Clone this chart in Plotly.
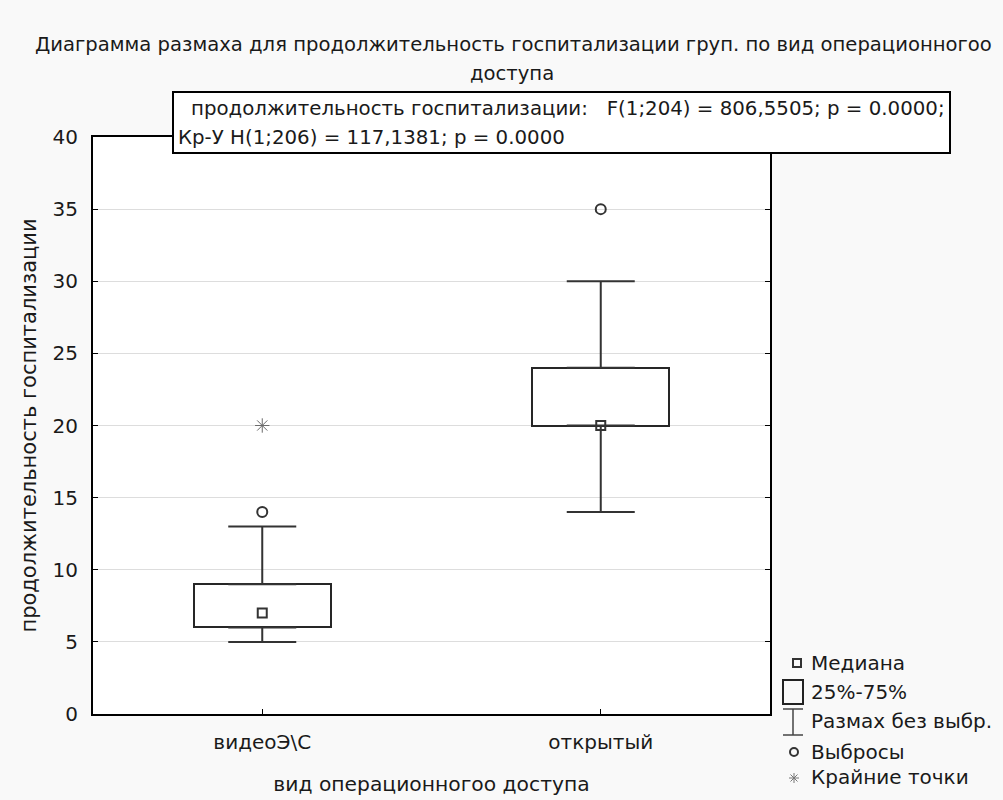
import plotly.graph_objects as go

# ---------------- data ----------------
categories = ["видеоЭ\\С", "открытый"]
q1 = [6, 20]
median = [7, 20]
q3 = [9, 24]
whisker_low = [5, 14]
whisker_high = [13, 30]
outlier_cat = ["видеоЭ\\С", "открытый"]
outlier_val = [14, 35]
extreme_cat = ["видеоЭ\\С"]
extreme_val = [20]
y_ticks = [0, 5, 10, 15, 20, 25, 30, 35, 40]

title_line1 = "Диаграмма размаха для продолжительность госпитализации груп. по вид операционногоо"
title_line2 = "доступа"
stat_line1 = "продолжительность госпитализации:&nbsp;&nbsp;&nbsp;F(1;204) = 806,5505; p = 0.0000;"
stat_line2 = "Кр-У H(1;206) = 117,1381; p = 0.0000"
x_title = "вид операционногоо доступа"
y_title = "продолжительность госпитализации"
legend_labels = ["Медиана", "25%-75%", "Размах без выбр.", "Выбросы", "Крайние точки"]

# ---------------- layout helpers ----------------
W, H = 1003, 800
FONT = "DejaVu Sans"
TXT = "#1a1a1a"
LINE = "#333333"


def px(x):
    return x / W


def py(y):
    return 1 - y / H


fig = go.Figure()

# boxes (25%-75%)
fig.add_trace(go.Bar(
    x=categories, base=q1, y=[b - a for a, b in zip(q1, q3)],
    width=0.405, marker=dict(color="white", line=dict(color="#262626", width=2)),
    showlegend=False, hoverinfo="skip",
))
# upper whiskers
fig.add_trace(go.Scatter(
    x=categories, y=q3, mode="markers",
    marker=dict(size=1, color="rgba(0,0,0,0)"),
    error_y=dict(type="data", symmetric=False,
                 array=[h - b for b, h in zip(q3, whisker_high)],
                 arrayminus=[0 for _ in q3],
                 width=34, thickness=2, color=LINE),
    showlegend=False, hoverinfo="skip",
))
# lower whiskers
fig.add_trace(go.Scatter(
    x=categories, y=q1, mode="markers",
    marker=dict(size=1, color="rgba(0,0,0,0)"),
    error_y=dict(type="data", symmetric=False,
                 array=[0 for _ in q1],
                 arrayminus=[a - l for a, l in zip(q1, whisker_low)],
                 width=34, thickness=2, color=LINE),
    showlegend=False, hoverinfo="skip",
))
# medians
fig.add_trace(go.Scatter(
    x=categories, y=median, mode="markers",
    marker=dict(symbol="square-open", size=9, color=LINE, line=dict(width=2)),
    showlegend=False,
))
# outliers
fig.add_trace(go.Scatter(
    x=outlier_cat, y=outlier_val, mode="markers",
    marker=dict(symbol="circle-open", size=10, color=LINE, line=dict(width=2)),
    showlegend=False,
))
# extremes
fig.add_trace(go.Scatter(
    x=extreme_cat, y=extreme_val, mode="markers",
    marker=dict(symbol="asterisk-open", size=12, color="#6a6a6a", line=dict(width=1)),
    showlegend=False,
))

shapes = []
annotations = []

# statistics box
shapes.append(dict(type="rect", xref="paper", yref="paper",
                   x0=px(173), x1=px(950), y0=py(153), y1=py(92),
                   fillcolor="white", line=dict(color="black", width=2), layer="above"))
annotations.append(dict(xref="paper", yref="paper", x=px(189), y=py(108),
                        xanchor="left", yanchor="middle", showarrow=False,
                        text=stat_line1, font=dict(family=FONT, size=19.8, color=TXT)))
annotations.append(dict(xref="paper", yref="paper", x=px(176), y=py(137),
                        xanchor="left", yanchor="middle", showarrow=False,
                        text=stat_line2, font=dict(family=FONT, size=19.8, color=TXT)))

# title
annotations.append(dict(xref="paper", yref="paper", x=px(513), y=py(44),
                        xanchor="center", yanchor="middle", showarrow=False,
                        text=title_line1, font=dict(family=FONT, size=19.6, color=TXT)))
annotations.append(dict(xref="paper", yref="paper", x=px(512), y=py(73),
                        xanchor="center", yanchor="middle", showarrow=False,
                        text=title_line2, font=dict(family=FONT, size=19.6, color=TXT)))

# custom legend
leg_y = [663, 692, 721, 752, 777]
for lab, yy in zip(legend_labels, leg_y):
    annotations.append(dict(xref="paper", yref="paper", x=px(809), y=py(yy),
                            xanchor="left", yanchor="middle", showarrow=False,
                            text=lab, font=dict(family=FONT, size=20, color=TXT)))
# median icon
shapes.append(dict(type="rect", xref="paper", yref="paper",
                   x0=px(793), x1=px(801), y0=py(667), y1=py(659),
                   line=dict(color=LINE, width=2)))
# box icon
shapes.append(dict(type="rect", xref="paper", yref="paper",
                   x0=px(783), x1=px(803), y0=py(704), y1=py(680),
                   line=dict(color="#222222", width=2)))
# range icon
for (x0, y0, x1, y1) in [(793, 709, 793, 735), (783, 709, 803, 709), (783, 735, 803, 735)]:
    shapes.append(dict(type="line", xref="paper", yref="paper",
                       x0=px(x0), y0=py(y0), x1=px(x1), y1=py(y1),
                       line=dict(color="#444444", width=1.5)))
# outlier icon
shapes.append(dict(type="circle", xref="paper", yref="paper",
                   x0=px(790), x1=px(798), y0=py(756), y1=py(748),
                   line=dict(color=LINE, width=2)))
# extreme icon
cx, cy, r = 794, 778, 5
for (dx, dy) in [(0, 1), (1, 0), (0.7, 0.7), (0.7, -0.7)]:
    shapes.append(dict(type="line", xref="paper", yref="paper",
                       x0=px(cx - r * dx), y0=py(cy - r * dy),
                       x1=px(cx + r * dx), y1=py(cy + r * dy),
                       line=dict(color="#777777", width=1)))

fig.update_layout(
    width=W, height=H,
    margin=dict(l=0, r=0, t=0, b=0, pad=0, autoexpand=False),
    paper_bgcolor="#f9f9f9",
    plot_bgcolor="white",
    font=dict(family=FONT, size=20, color=TXT),
    showlegend=False,
    bargap=0,
    shapes=shapes,
    annotations=annotations,
    xaxis=dict(
        domain=[px(93), px(770)],
        type="category", categoryorder="array", categoryarray=categories,
        range=[-0.5, 1.5], automargin=False,
        showline=True, linecolor="black", linewidth=2, mirror="ticks",
        ticks="inside", ticklen=5, tickcolor="black", tickwidth=1,
        showgrid=False, zeroline=False,
        tickfont=dict(family=FONT, size=20, color=TXT),
        ticklabelstandoff=9,
        title=dict(text=x_title, font=dict(family=FONT, size=20.3, color=TXT), standoff=24),
    ),
    yaxis=dict(
        domain=[py(714), py(137)],
        range=[0, 40], tickvals=y_ticks, automargin=False,
        showline=True, linecolor="black", linewidth=2, mirror="ticks",
        ticks="inside", ticklen=5, tickcolor="black", tickwidth=1,
        showgrid=True, gridcolor="#dddddd", gridwidth=1, zeroline=False,
        tickfont=dict(family=FONT, size=20, color=TXT),
        ticklabelstandoff=9,
        title=dict(text=y_title, font=dict(family=FONT, size=21, color=TXT), standoff=10),
    ),
)

fig.write_html("out.html")
